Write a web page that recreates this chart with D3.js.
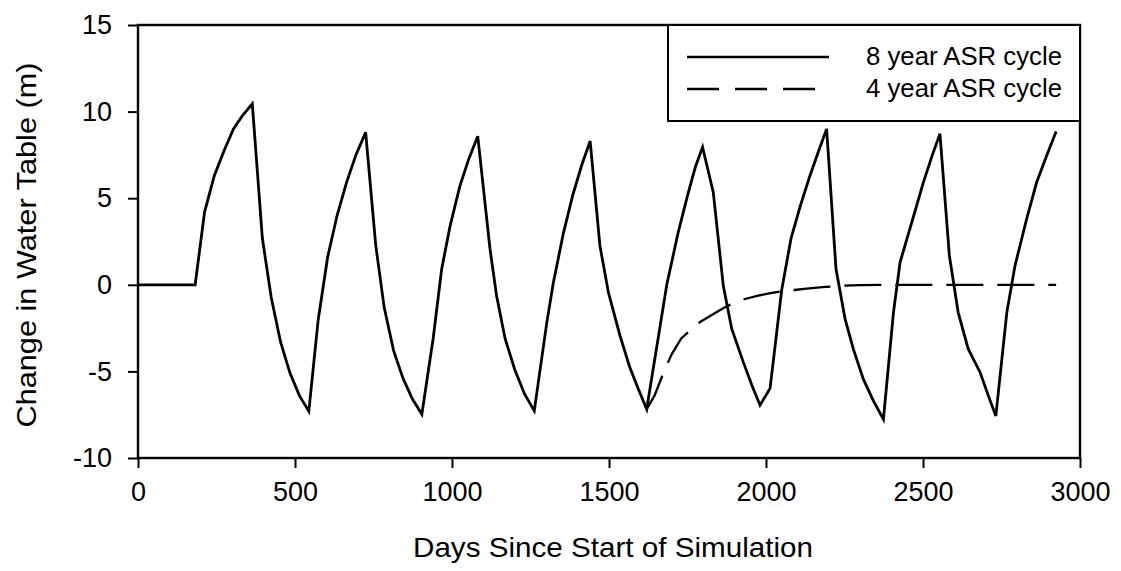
<!DOCTYPE html>
<html><head><meta charset="utf-8">
<script src="https://cdn.jsdelivr.net/npm/d3@7"></script>
<style>
body{margin:0;background:#fff}
svg{display:block}
text{font-family:"Liberation Sans",Arial,Helvetica,sans-serif;fill:#000}
</style>
</head><body>
<svg id="chart" width="1121" height="571"></svg>
<script>
// ---- data ----
const days8 = [0,182,212,243,273,304,334,364, 396,424,454,484,514,544, 574,604,634,664,694,725,
  757,784,814,844,874,904, 940,967,994,1025,1054,1082, 1121,1142,1169,1200,1231,1262,
  1302,1323,1355,1385,1413,1440, 1471,1498,1535,1565,1593,1620, 1684,1720,1750,1775,1798,
  1832,1864,1891,1928,1955,1981,2013, 2050,2080,2110,2140,2167,2193, 2223,2252,2278,2310,2342,2374,
  2406,2427,2469,2501,2528,2554, 2584,2612,2644,2682,2708,2732, 2767,2793,2830,2862,2894,2924];
const values8 = [0,0,4.2,6.3,7.7,9.0,9.8,10.45, 2.7,-0.7,-3.3,-5.1,-6.4,-7.3, -2.0,1.6,4.0,5.9,7.5,8.8,
  2.3,-1.3,-3.8,-5.4,-6.6,-7.47, -3.1,0.9,3.4,5.7,7.3,8.58, 2.07,-0.63,-3.1,-4.9,-6.3,-7.28,
  -2.17,0.14,3.0,5.2,6.9,8.3, 2.26,-0.43,-2.94,-4.7,-6.0,-7.18, 0.0,3.0,5.15,6.8,7.95,
  5.35,-0.05,-2.55,-4.48,-5.8,-6.95,-5.98, -0.3,2.7,4.6,6.3,7.7,9.0, 0.91,-1.98,-3.7,-5.45,-6.7,-7.76,
  -1.59,1.3,3.9,5.9,7.4,8.72, 1.68,-1.59,-3.7,-5.06,-6.4,-7.57, -1.59,1.1,3.8,5.92,7.46,8.85];
const days4 = [1620,1645,1678,1700,1730,1760,1790,1822,1850,1875,1905,1933,1975,2010,2050,2090,2130,2180,2230,2300,2400,2600,2924];
const values4 = [-7.18,-6.4,-4.87,-4.0,-3.1,-2.6,-2.15,-1.8,-1.5,-1.24,-1.0,-0.82,-0.63,-0.5,-0.38,-0.3,-0.22,-0.14,-0.06,-0.02,0,0,0];
const xTicks = [0,500,1000,1500,2000,2500,3000];
const yTicks = [-10,-5,0,5,10,15];
const seriesNames = ["8 year ASR cycle","4 year ASR cycle"];
const xTitle = "Days Since Start of Simulation";
const yTitle = "Change in Water Table (m)";

// ---- layout ----
const L = 138, R = 1080, T = 25, B = 458;
const svg = d3.select("#chart");
const x = d3.scaleLinear().domain([0,3000]).range([L,R]);
const y = d3.scaleLinear().domain([-10,15]).range([B,T]);

const s8 = days8.map((d,i)=>[d,values8[i]]);
const s4 = days4.map((d,i)=>[d,values4[i]]);
const line = d3.line().x(d=>x(d[0])).y(d=>y(d[1]));
const fmt = d => String(d);

// axes
const xAxis = d3.axisBottom(x).tickValues(xTicks).tickFormat(fmt).tickSizeInner(10).tickSizeOuter(0).tickPadding(14);
const gx = svg.append("g").attr("transform",`translate(0,${B})`).call(xAxis);
gx.select(".domain").remove();
gx.selectAll("line").attr("stroke","#000").attr("stroke-width",2);
gx.selectAll("text").attr("font-size",27).attr("dy","0.71em");

const yAxis = d3.axisLeft(y).tickValues(yTicks).tickFormat(fmt).tickSizeInner(10).tickSizeOuter(0).tickPadding(16);
const gy = svg.append("g").attr("transform",`translate(${L},0)`).call(yAxis);
gy.select(".domain").remove();
gy.selectAll("line").attr("stroke","#000").attr("stroke-width",2);
gy.selectAll("text").attr("font-size",27);

// series
svg.append("path").datum(s4).attr("d",line).attr("fill","none")
  .attr("stroke","#000").attr("stroke-width",2.3).attr("stroke-dasharray","37,14");
svg.append("path").datum(s8).attr("d",line).attr("fill","none")
  .attr("stroke","#000").attr("stroke-width",2.8).attr("stroke-linejoin","miter");

// frame
svg.append("rect").attr("x",L).attr("y",T).attr("width",R-L).attr("height",B-T)
  .attr("fill","none").attr("stroke","#000").attr("stroke-width",2.4);

// legend
const lg = svg.append("g");
lg.append("rect").attr("x",668).attr("y",T).attr("width",R-668).attr("height",96)
  .attr("fill","#fff").attr("stroke","#000").attr("stroke-width",2);
lg.append("line").attr("x1",687).attr("x2",829).attr("y1",57).attr("y2",57)
  .attr("stroke","#000").attr("stroke-width",2.4);
lg.append("line").attr("x1",687).attr("x2",815).attr("y1",89).attr("y2",89)
  .attr("stroke","#000").attr("stroke-width",2.4).attr("stroke-dasharray","32,16");
lg.append("text").attr("x",866).attr("y",65).attr("font-size",25)
  .attr("textLength",196).attr("lengthAdjust","spacingAndGlyphs").text(seriesNames[0]);
lg.append("text").attr("x",866).attr("y",97).attr("font-size",25)
  .attr("textLength",196).attr("lengthAdjust","spacingAndGlyphs").text(seriesNames[1]);

// titles
svg.append("text").attr("x",613).attr("y",557).attr("text-anchor","middle")
  .attr("font-size",28).attr("textLength",400).attr("lengthAdjust","spacingAndGlyphs").text(xTitle);
svg.append("text").attr("transform","translate(36,245) rotate(-90)").attr("text-anchor","middle")
  .attr("font-size",28).attr("textLength",365).attr("lengthAdjust","spacingAndGlyphs").text(yTitle);
</script>
</body></html>
